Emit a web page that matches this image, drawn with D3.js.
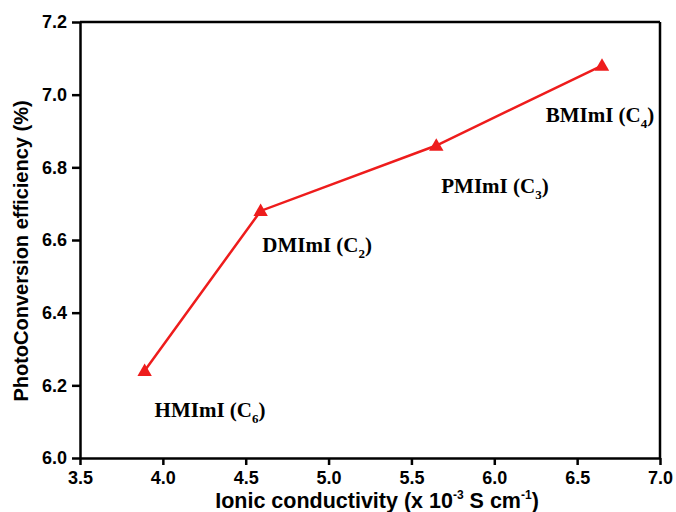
<!DOCTYPE html>
<html><head><meta charset="utf-8">
<script src="https://cdn.jsdelivr.net/npm/d3@7"></script>
<style>body{margin:0;background:#fff}</style>
</head><body>
<svg id="c" width="676" height="512"></svg>
<script>
const conductivity = [3.89, 4.59, 5.65, 6.65];
const efficiency = [6.24, 6.68, 6.86, 7.08];
const names = ["HMImI", "DMImI", "PMImI", "BMImI"];
const subs = ["6", "2", "3", "4"];
const xTicks = [3.5, 4.0, 4.5, 5.0, 5.5, 6.0, 6.5, 7.0];
const yTicks = [6.0, 6.2, 6.4, 6.6, 6.8, 7.0, 7.2];
// annotation anchor points (data units): start x and baseline y of each label
const labelX = [3.95, 4.60, 5.68, 6.31];
const labelY = [6.113, 6.567, 6.729, 6.925];

const svg = d3.select("#c");
const m = {l:80, r:16, t:22, b:54};
const W = 676, H = 512;
const x = d3.scaleLinear().domain([3.5, 7.0]).range([m.l, W - m.r]);
const y = d3.scaleLinear().domain([6.0, 7.2]).range([H - m.b, m.t]);

const sans = "Arial, 'Liberation Sans', sans-serif";

const gx = svg.append("g").attr("transform", `translate(0,${H - m.b})`)
  .call(d3.axisBottom(x).tickValues(xTicks).tickFormat(d3.format(".1f")).tickSize(7).tickSizeOuter(0));
const gy = svg.append("g").attr("transform", `translate(${m.l},0)`)
  .call(d3.axisLeft(y).tickValues(yTicks).tickFormat(d3.format(".1f")).tickSize(8).tickPadding(5).tickSizeOuter(0));
[gx, gy].forEach(g => {
  g.select(".domain").attr("stroke", "#000").attr("stroke-width", 2.5);
  g.selectAll(".tick line").attr("stroke", "#000").attr("stroke-width", 2.5);
  g.selectAll(".tick text")
    .attr("font-family", sans).attr("font-size", 18).attr("font-weight", "bold")
    .style("font-family", sans).style("font-size", "18px").style("font-weight", "bold")
    .attr("fill", "#000");
});
gx.selectAll(".tick text").attr("dy", null).attr("y", 26);

// top and right frame
svg.append("line").attr("x1", x(3.5)).attr("x2", x(7.0)).attr("y1", y(7.2)).attr("y2", y(7.2))
  .attr("stroke", "#000").attr("stroke-width", 2.5);
svg.append("line").attr("x1", x(7.0)).attr("x2", x(7.0)).attr("y1", y(7.2)).attr("y2", y(6.0))
  .attr("stroke", "#000").attr("stroke-width", 2.5);

const data = conductivity.map((c, i) => ({x: c, y: efficiency[i], n: names[i], s: subs[i], lx: labelX[i], ly: labelY[i]}));

svg.append("path").datum(data)
  .attr("d", d3.line().x(d => x(d.x)).y(d => y(d.y)))
  .attr("fill", "none").attr("stroke", "#ee1c1c").attr("stroke-width", 2.5);

svg.selectAll(".pt").data(data).enter().append("path")
  .attr("transform", d => `translate(${x(d.x)},${y(d.y) + 1})`)
  .attr("d", d3.symbol().type(d3.symbolTriangle).size(90))
  .attr("fill", "#ee1c1c");

const lab = svg.selectAll(".lab").data(data).enter().append("text")
  .attr("x", d => x(d.lx))
  .attr("y", d => y(d.ly))
  .style("font-family", "'Liberation Serif', 'Times New Roman', serif")
  .style("font-weight", "bold").style("font-size", "21px")
  .attr("fill", "#000");
lab.append("tspan").text(d => d.n + " (C");
lab.append("tspan").text(d => d.s).attr("dy", 6).style("font-size", "13px");
lab.append("tspan").text(")").attr("dy", -6);

// axis titles
const xt = svg.append("text").attr("x", 377).attr("y", 508)
  .attr("text-anchor", "middle")
  .style("font-family", sans).style("font-weight", "bold").style("font-size", "21.5px")
  .attr("fill", "#000");
xt.append("tspan").text("Ionic conductivity (x 10");
xt.append("tspan").text("-3").attr("dy", -9).style("font-size", "12px");
xt.append("tspan").text(" S cm").attr("dy", 9);
xt.append("tspan").text("-1").attr("dy", -9).style("font-size", "12px");
xt.append("tspan").text(")").attr("dy", 9);

svg.append("text").attr("transform", `translate(28,251) rotate(-90)`)
  .attr("text-anchor", "middle")
  .style("font-family", sans).style("font-weight", "bold").style("font-size", "20px")
  .attr("fill", "#000")
  .text("PhotoConversion efficiency (%)");
</script>
</body></html>
